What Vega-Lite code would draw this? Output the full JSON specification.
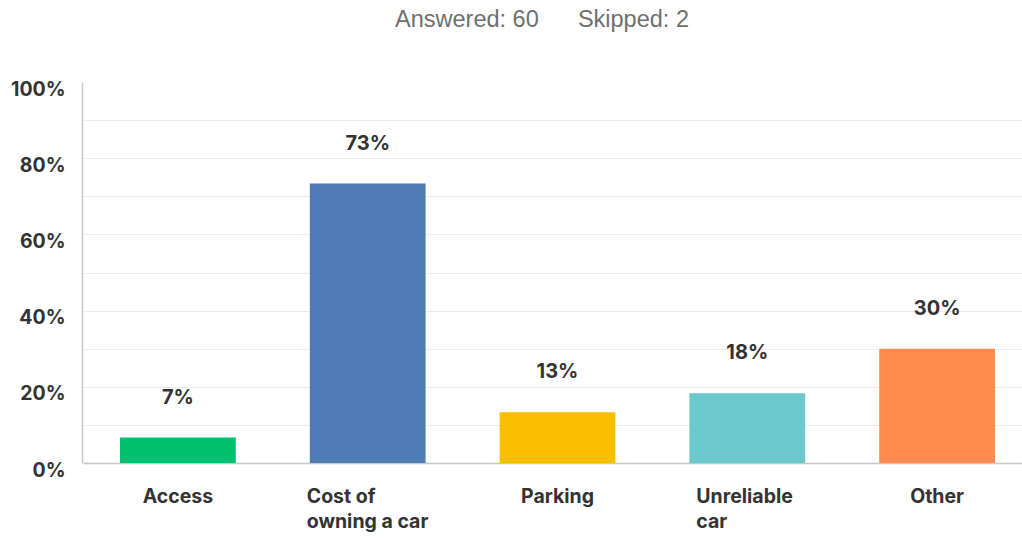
{
  "$schema": "https://vega.github.io/schema/vega-lite/v6.json",
  "width": 940,
  "height": 381,
  "autosize": {"type": "none"},
  "padding": {"left": 82, "top": 82, "right": 0, "bottom": 75},
  "background": "white",
  "title": {
    "text": "Answered: 60\u00a0\u00a0\u00a0\u00a0\u00a0\u00a0Skipped: 2",
    "font": "Liberation Sans",
    "fontSize": 23.5,
    "fontWeight": "normal",
    "color": "#6f6f6f",
    "anchor": "middle",
    "baseline": "alphabetic",
    "offset": 29,
    "dx": -10
  },
  "data": {
    "values": [
      {"category": "Access", "share": 0.0667, "color": "#00BF6F"},
      {"category": "Cost of owning a car", "share": 0.7333, "color": "#507CB6"},
      {"category": "Parking", "share": 0.1333, "color": "#F9BE00"},
      {"category": "Unreliable car", "share": 0.1833, "color": "#6BC8CD"},
      {"category": "Other", "share": 0.30, "color": "#FF8B4F"}
    ]
  },
  "config": {
    "view": {"stroke": null},
    "font": "Inter"
  },
  "encoding": {
    "x": {
      "field": "category",
      "type": "nominal",
      "sort": null,
      "scale": {"range": [1, 950], "paddingInner": 0.39, "paddingOuter": 0.195},
      "axis": {
        "title": null,
        "labelAngle": 0,
        "ticks": false,
        "domain": true,
        "domainColor": "#c8c8c8",
        "domainWidth": 1.5,
        "labelFont": "Inter",
        "labelFontSize": 19.5,
        "labelFontWeight": "bold",
        "labelColor": "#333333",
        "labelPadding": 24,
        "labelBaseline": "top",
        "labelLineHeight": 25,
        "labelExpr": "datum.value == 'Cost of owning a car' ? ['Cost of', 'owning a car'] : datum.value == 'Unreliable car' ? ['Unreliable', 'car'] : datum.value",
        "labelAlign": {
          "condition": {"test": "datum.value == 'Cost of owning a car' || datum.value == 'Unreliable car'", "value": "left"},
          "value": "center"
        },
        "labelOffset": {
          "condition": [
            {"test": "datum.value == 'Cost of owning a car'", "value": -61},
            {"test": "datum.value == 'Unreliable car'", "value": -51}
          ],
          "value": 0
        }
      }
    },
    "y": {
      "field": "share",
      "type": "quantitative",
      "scale": {"domain": [0, 1], "nice": false},
      "axis": {
        "title": null,
        "values": [0, 0.1, 0.2, 0.3, 0.4, 0.5, 0.6, 0.7, 0.8, 0.9, 1],
        "labelExpr": "round(datum.value * 100) % 20 == 0 ? round(datum.value * 100) + '%' : ''",
        "ticks": false,
        "domain": true,
        "domainColor": "#c8c8c8",
        "domainWidth": 1.5,
        "grid": true,
        "gridColor": {"condition": {"test": "datum.value >= 0.99", "value": "transparent"}, "value": "#ececec"},
        "gridWidth": 1.2,
        "labelFont": "Inter",
        "labelFontSize": 19.5,
        "labelFontWeight": "bold",
        "labelColor": "#333333",
        "labelPadding": 17,
        "labelOffset": 7
      }
    }
  },
  "layer": [
    {
      "mark": {"type": "bar"},
      "encoding": {
        "color": {"field": "color", "type": "nominal", "scale": null, "legend": null}
      }
    },
    {
      "mark": {
        "type": "text",
        "baseline": "middle",
        "dy": -40,
        "font": "Inter",
        "fontSize": 20,
        "fontWeight": "bold",
        "color": "#333333"
      },
      "encoding": {
        "text": {"field": "share", "type": "quantitative", "format": ".0%"}
      }
    }
  ]
}
